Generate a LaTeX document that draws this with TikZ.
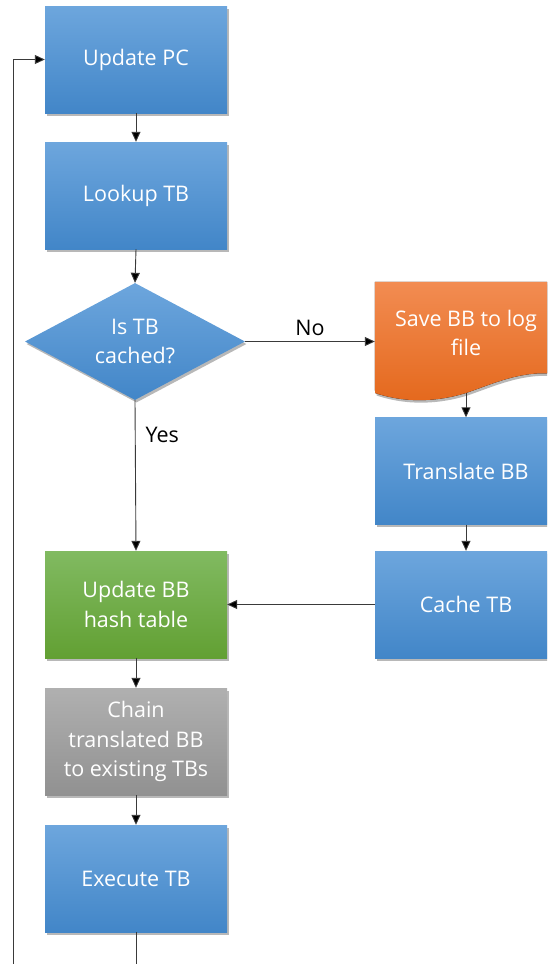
\documentclass[tikz,border=0pt]{standalone}
\usepackage{fontspec}
\setmainfont{Open Sans}
\usetikzlibrary{arrows.meta,shapes.geometric,shadows}

\definecolor{bluetop}{HTML}{6DA6DD}
\definecolor{bluebot}{HTML}{4286C8}
\definecolor{greentop}{HTML}{81BA61}
\definecolor{greenbot}{HTML}{62A033}
\definecolor{greytop}{HTML}{B0B0B0}
\definecolor{greybot}{HTML}{919191}
\definecolor{orangetop}{HTML}{F28C52}
\definecolor{orangebot}{HTML}{E4681C}
\definecolor{linecol}{HTML}{3A3A3A}

\newcommand\bxfont{\fontsize{21.5}{29.5}\selectfont}

\tikzset{
  softshadow/.style={drop shadow={shadow xshift=1.5pt, shadow yshift=-2.5pt, fill=black, opacity=0.28}},
  box/.style={rectangle, minimum width=182pt, minimum height=107pt, inner sep=3pt,
    align=center, text=white, font=\bxfont, softshadow},
  bluebox/.style={box, top color=bluetop, bottom color=bluebot},
  greenbox/.style={box, top color=greentop, bottom color=greenbot},
  greybox/.style={box, top color=greytop, bottom color=greybot},
  decision/.style={diamond, minimum width=220pt, minimum height=117pt, aspect=1.88,
    inner sep=0pt, align=center, text=white, font=\bxfont, softshadow,
    top color=bluetop, bottom color=bluebot},
  arr/.style={draw=linecol, line width=0.9pt, -{Triangle[length=10pt,width=9pt,fill=black]}},
  lbl/.style={font=\bxfont, text=black, inner sep=1pt}
}

\begin{document}
\begin{tikzpicture}[x=1pt, y=-1pt]
\useasboundingbox (0,0) rectangle (547,964);
\clip (0,0) rectangle (547,964);

% main column
\node[bluebox] (pc) at (136,59.5) {Update PC};
\node[bluebox] (lookup) at (136,195.5) {Lookup TB};
\node[decision] (dia) at (135,341.5) {Is TB\\cached?};
\node[greenbox] (ub) at (136,604.5) {Update BB\\hash table};
\node[greybox] (chain) at (136,741.5) {Chain\\translated BB\\to existing TBs};
\node[bluebox] (exec) at (136,878.5) {Execute TB};

% miss path on the right
\node[rectangle, minimum width=182pt, minimum height=118pt, inner sep=0pt] (save) at (466,341) {};
\fill[top color=orangetop, bottom color=orangebot, softshadow]
  (save.north west) -- (save.north east) -- (557,374)
  .. controls (522,370) and (495,383) .. (466,393)
  .. controls (440,401) and (408,404) .. (375,393) -- cycle;
\node[font=\bxfont, text=white, align=center] (savetxt) at (466,333) {Save BB to log\\file};
\coordinate (savebot) at (466,393);

\node[bluebox] (trans) at (466,471) {Translate BB};
\node[bluebox] (cache) at (466,604.5) {Cache TB};

% connectors
\draw[arr] (pc.south) -- (lookup.north);
\draw[arr] (lookup.south) -- (dia.north);
\draw[arr] (dia.east) -- node[lbl, above=4pt, pos=0.5] {No} (dia.east -| save.west);
\draw[arr] (dia.south) -- node[lbl, pos=0.23, right=9pt] {Yes} (ub.north);
\draw[arr] (savebot) -- (trans.north);
\draw[arr] (trans.south) -- (cache.north);
\draw[arr] (cache.west) -- (ub.east);
\draw[arr] (ub.south) -- (chain.north);
\draw[arr] (chain.south) -- (exec.north);

% loop back to the top
\coordinate (loopbot) at (13,990);
\draw[arr] (exec.south) -- (exec.south |- loopbot) -- (loopbot) -- (loopbot |- pc.west) -- (pc.west);
\end{tikzpicture}
\end{document}
